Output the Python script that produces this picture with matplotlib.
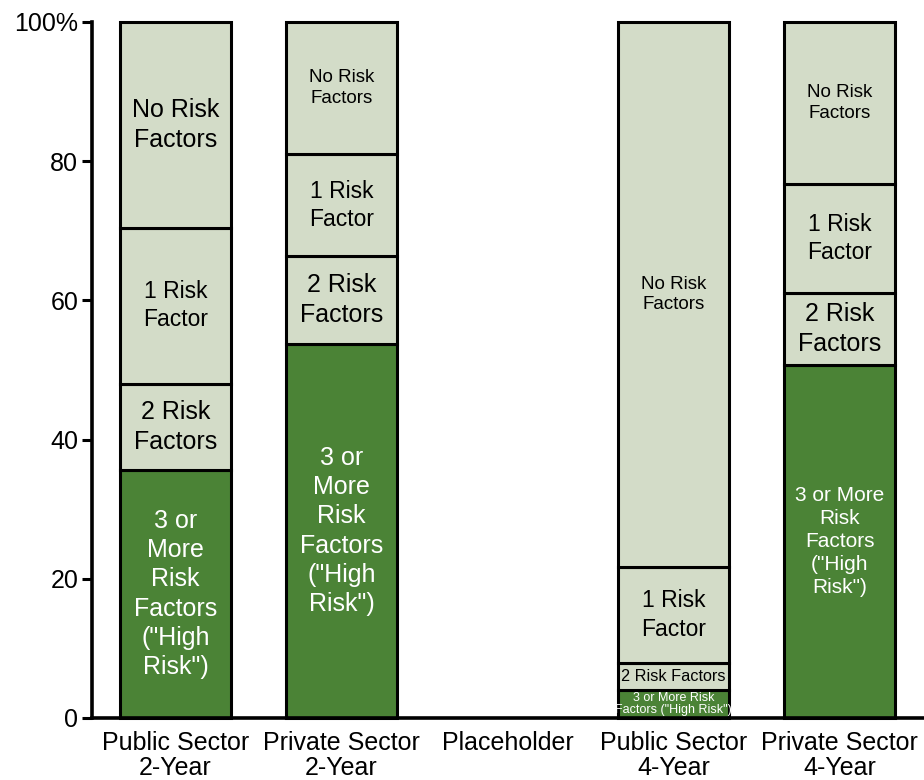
import matplotlib
matplotlib.use("Agg")
import matplotlib.pyplot as plt
import numpy as np

plt.rcParams['font.family'] = ['Liberation Sans', 'DejaVu Sans']

categories = ["Public Sector\n2-Year", "Private Sector\n2-Year", "Placeholder",
              "Public Sector\n4-Year", "Private Sector\n4-Year"]
high_risk = [35.6, 53.7, 0.0, 4.0, 50.7]
two_risk = [12.4, 12.7, 0.0, 3.9, 10.4]
one_risk = [22.4, 14.6, 0.0, 13.8, 15.6]
no_risk = [29.6, 19.0, 0.0, 78.3, 23.3]
y_ticks = [0, 20, 40, 60, 80, 100]
y_tick_labels = ["0", "20", "40", "60", "80", "100%"]

# Segment labels per bar (None = no bar)
high_labels = ['3 or\nMore\nRisk\nFactors\n("High\nRisk")',
               '3 or\nMore\nRisk\nFactors\n("High\nRisk")',
               None,
               '3 or More Risk\nFactors ("High Risk")',
               '3 or More\nRisk\nFactors\n("High\nRisk")']
two_labels = ["2 Risk\nFactors", "2 Risk\nFactors", None, "2 Risk Factors", "2 Risk\nFactors"]
one_labels = ["1 Risk\nFactor", "1 Risk\nFactor", None, "1 Risk\nFactor", "1 Risk\nFactor"]
no_labels = ["No Risk\nFactors", "No Risk\nFactors", None, "No Risk\nFactors", "No Risk\nFactors"]

high_sizes = [18, 18, 0, 9, 15]
two_sizes = [18, 18, 0, 11.7, 18]
one_sizes = [16.5, 16.5, 0, 16.5, 16.5]
no_sizes = [18, 13.5, 0, 13.5, 13.5]

GREEN = "#4b8336"
LIGHT = "#d3dcc8"

fig = plt.figure(figsize=(9.24, 7.8), dpi=100)
ax = fig.add_axes([0.0996, 0.0795, 0.9004, 0.8923])

x = np.arange(len(categories))
width = 0.67
segments = [
    (high_risk, GREEN, "white", high_labels, high_sizes),
    (two_risk, LIGHT, "black", two_labels, two_sizes),
    (one_risk, LIGHT, "black", one_labels, one_sizes),
    (no_risk, LIGHT, "black", no_labels, no_sizes),
]

bottom = np.zeros(len(categories))
for values, color, tcolor, labels, sizes in segments:
    vals = np.array(values)
    for i in range(len(categories)):
        if vals[i] <= 0:
            continue
        ax.bar(x[i], vals[i], width=width, bottom=bottom[i], color=color,
               edgecolor="black", linewidth=2.2, clip_on=False, zorder=3)
        if labels[i]:
            ls = 1.0 if sizes[i] < 10 else 1.28
            ax.text(x[i], bottom[i] + vals[i] / 2, labels[i], ha="center",
                    va="center", color=tcolor, fontsize=sizes[i],
                    linespacing=ls, zorder=4)
    bottom = bottom + vals

ax.set_xlim(-0.503, 4.509)
ax.set_ylim(0, 100)
ax.set_yticks(y_ticks)
ax.set_yticklabels(y_tick_labels, fontsize=18)
ax.set_xticks(x)
ax.set_xticklabels(categories, fontsize=18, linespacing=1.05)
ax.tick_params(axis="x", length=0, pad=9.5)
ax.tick_params(axis="y", length=7, width=2.2, pad=3)

for side in ("top", "right"):
    ax.spines[side].set_visible(False)
ax.spines["left"].set_linewidth(2.6)
ax.spines["bottom"].set_linewidth(2.6)
ax.spines["left"].set_zorder(5)
ax.spines["bottom"].set_zorder(5)

fig.savefig("out.png", dpi=100)
